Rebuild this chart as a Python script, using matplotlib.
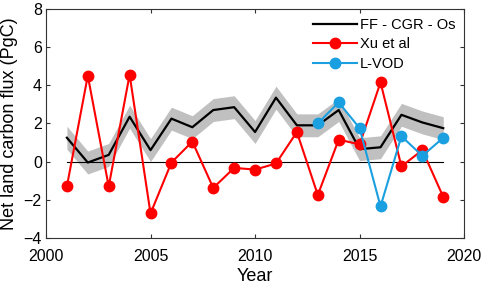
import numpy as np
import matplotlib.pyplot as plt

plt.rcParams["font.family"] = ["Liberation Sans", "DejaVu Sans"]

years = np.arange(2001, 2020)
ff_cgr_os = [1.25, -0.05, 0.35, 2.35, 0.6, 2.25, 1.8, 2.7, 2.85, 1.55,
             3.35, 1.9, 1.9, 2.7, 0.65, 0.75, 2.45, 2.05, 1.75]
ff_unc = 0.6
xu_et_al = [-1.3, 4.5, -1.3, 4.55, -2.72, -0.05, 1.05, -1.38, -0.33, -0.42,
            -0.1, 1.55, -1.75, 1.15, 0.9, 4.15, -0.25, 0.6, -1.85]
vod_years = np.arange(2013, 2020)
l_vod = [2.0, 3.1, 1.75, -2.35, 1.33, 0.3, 1.25]

fig = plt.figure(figsize=(4.84, 2.87), dpi=100)
ax = fig.add_axes([0.095, 0.171, 0.864, 0.798])

ff = np.array(ff_cgr_os)
ax.fill_between(years, ff - ff_unc, ff + ff_unc, color="#c0c0c0", lw=0)
ax.plot([2001, 2019], [0, 0], color="k", lw=0.8)
ax.plot(years, ff, color="k", lw=1.6, label="FF - CGR - Os")
ax.plot(years, xu_et_al, color="#ff0000", lw=1.5, marker="o", ms=7.5,
        label="Xu et al")
ax.plot(vod_years, l_vod, color="#1aa0e0", lw=1.5, marker="o", ms=7.5,
        label="L-VOD")

ax.set_xlim(2000, 2020)
ax.set_ylim(-4, 8)
ax.set_xticks([2000, 2005, 2010, 2015, 2020])
ax.set_yticks([-4, -2, 0, 2, 4, 6, 8])
ax.tick_params(direction="in", top=True, right=True, labelsize=11.5,
               length=3, pad=3, color="#333333")
ax.tick_params(axis="x", pad=8)
for s in ax.spines.values():
    s.set_color("#333333")
    s.set_linewidth(0.8)
ax.set_xlabel("Year", fontsize=13, labelpad=3)
ax.set_ylabel("Net land carbon flux (PgC)", fontsize=13, labelpad=4)

ax.legend(loc="upper right", frameon=False, fontsize=10.5, handlelength=3.0,
          borderaxespad=0.4, labelspacing=0.4, handletextpad=0.2,
          borderpad=0.2)

fig.savefig("out.png", dpi=100)
